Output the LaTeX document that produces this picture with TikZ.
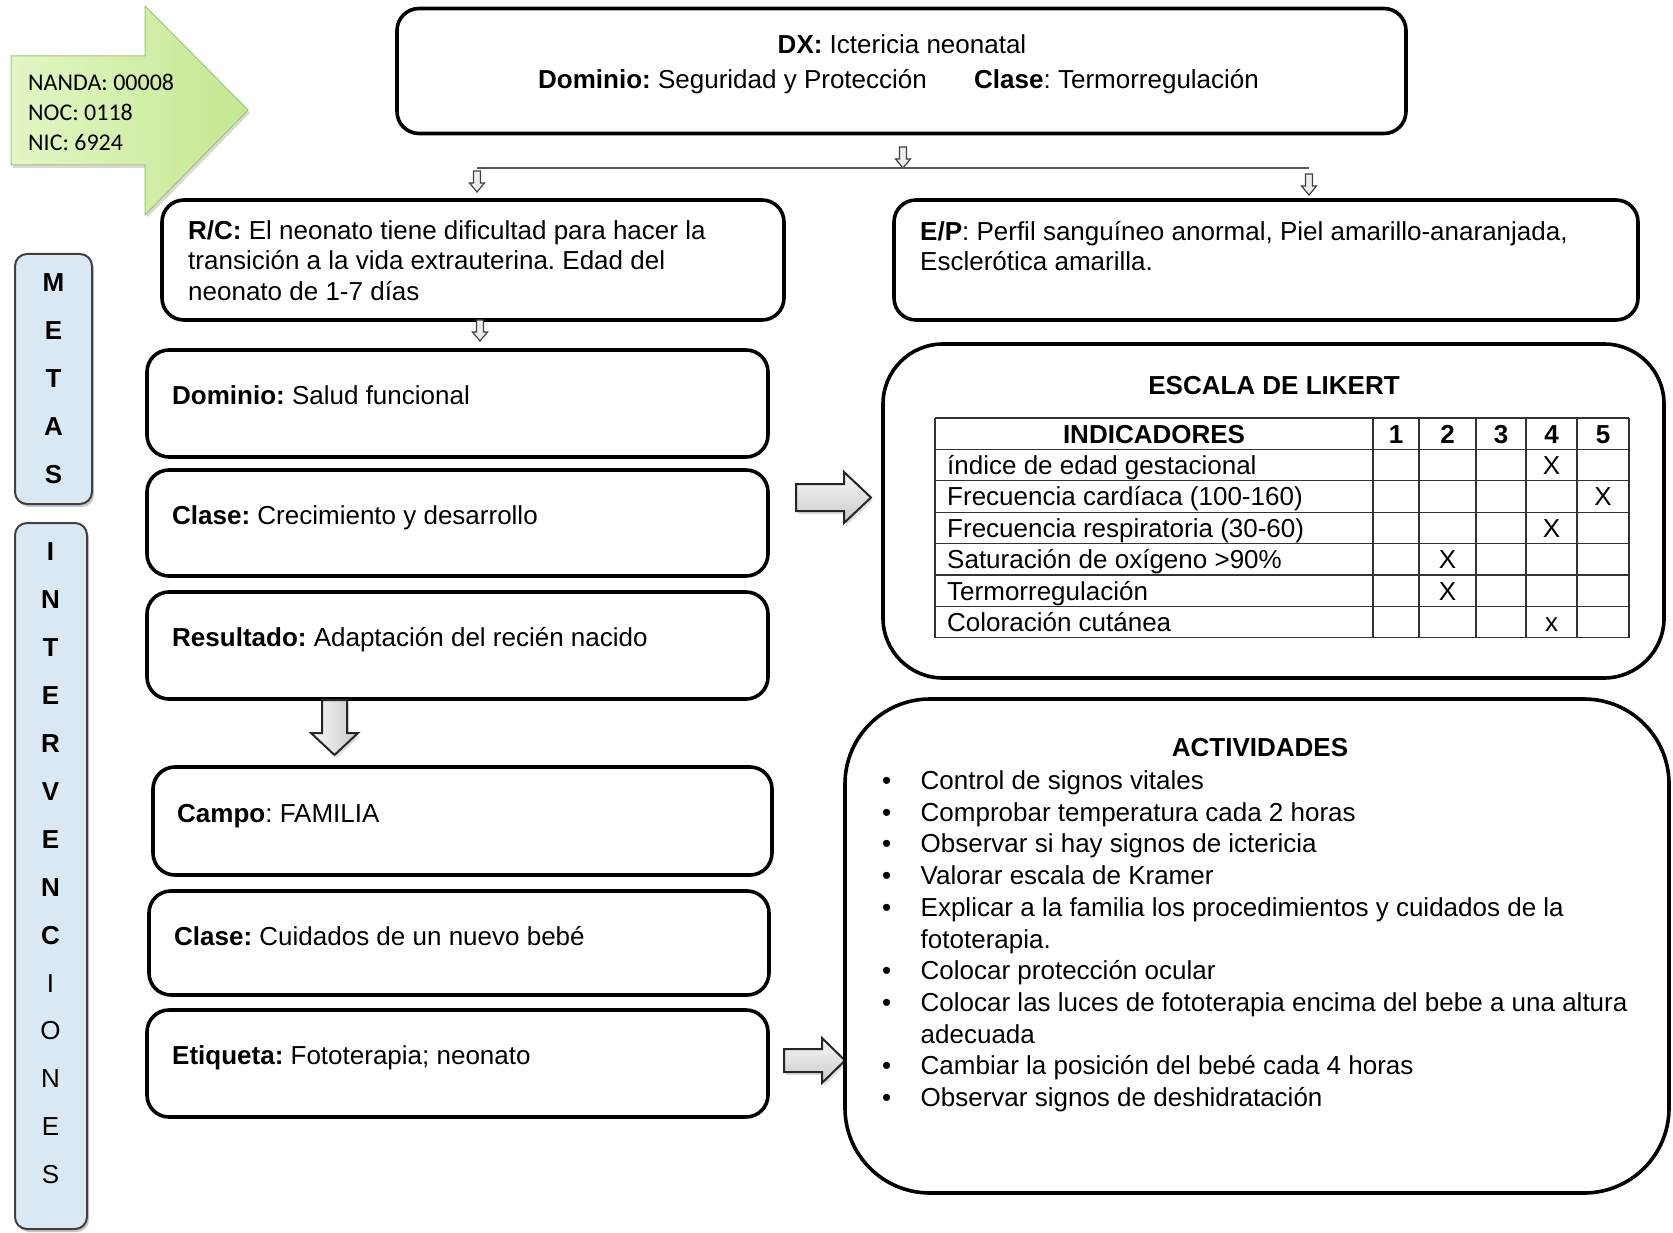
\documentclass[tikz,border=0pt]{standalone}
\usepackage{fontspec}
\setmainfont{Liberation Sans}
\newfontfamily\calib{Carlito}
\usetikzlibrary{shadows,calc}
\definecolor{greenL}{RGB}{226,246,196}
\definecolor{greenR}{RGB}{196,232,145}
\definecolor{greenB}{RGB}{160,200,115}
\definecolor{sideblue}{RGB}{218,232,243}
\frenchspacing
\begin{document}
\frenchspacing
\begin{tikzpicture}[x=1pt,y=-1pt,
  font=\fontsize{26}{30.5}\selectfont,
  box/.style={draw, line width=3.6pt, rounded corners=22pt, inner sep=0pt},
  txt/.style={inner sep=0pt, anchor=base west},
  ctxt/.style={inner sep=0pt, anchor=base},
  mtxt/.style={inner sep=0pt, anchor=north west, align=left},
  blockarr/.style={draw=black!85, line width=2pt, line join=miter, top color=gray!6, bottom color=gray!42,
     drop shadow={opacity=0.25, shadow xshift=2pt, shadow yshift=-3pt}},
  smallarr/.style={draw=black!75, fill=gray!15, line width=1.2pt, line join=miter},
  side/.style={draw=black!75, line width=2pt, fill=sideblue, rounded corners=12pt, inner sep=0pt,
     drop shadow={opacity=0.35, shadow xshift=2pt, shadow yshift=-3pt, fill=black!60}},
  sidel/.style={inner sep=0pt, font=\fontsize{26}{30}\selectfont\bfseries},
  sider/.style={inner sep=0pt, font=\fontsize{26}{30}\selectfont},
  tline/.style={line width=1.3pt, draw=black!80},
  sdown/.pic={\draw[smallarr] (-3.5,0) -- (3.5,0) -- (3.5,12) -- (7.5,12) -- (0,21) -- (-7.5,12) -- (-3.5,12) -- cycle;}
]
\useasboundingbox (0,0) rectangle (1673,1233);
\fill[white] (0,0) rectangle (1673,1233);

% green label arrow
\draw[draw=greenB, line width=1pt, left color=greenL, right color=greenR,
      drop shadow={opacity=0.3, shadow xshift=2pt, shadow yshift=-3pt}]
  (11,56) -- (145,56) -- (145,6) -- (248,110) -- (145,215) -- (145,165) -- (11,165) -- cycle;
\node[txt, font=\calib\fontsize{24}{30}\selectfont] (nanda) at (28,91) {NANDA: 00008};
\node[txt, font=\calib\fontsize{24}{30}\selectfont] (noc) at (28,121) {NOC: 0118};
\node[txt, font=\calib\fontsize{24}{30}\selectfont] (nic) at (28,151) {NIC: 6924};

% side boxes
\node[side, minimum width=77pt, minimum height=250pt] (metas) at (53.5,379) {};
\node[side, minimum width=72pt, minimum height=706pt] (interv) at (51,876) {};
\foreach \l [count=\i from 0] in {M,E,T,A,S}
  \node[sidel] (m\i) at (53.5,{283+47.9*\i}) {\l};
\foreach \l [count=\i from 0] in {I,N,T,E,R,V,E,N,C}
  \node[sidel] (ib\i) at (50.5,{552+47.9*\i}) {\l};
\foreach \l [count=\i from 9] in {I,O,N,E,S}
  \node[sider] (ir\i) at (50.5,{552+47.9*\i}) {\l};

% DX box
\node[box, minimum width=1009pt, minimum height=125pt] (dx) at (901.5,71) {};
\node[ctxt] (dxt) at (902,54) {\textbf{DX:} Ictericia neonatal};
\node[txt] (dxdom) at (538,89) {\textbf{Dominio:} Seguridad y Protección};
\node[txt] (dxcla) at (974,89) {\textbf{Clase}: Termorregulación};

% split connector
\pic at (903,147) {sdown};
\coordinate (hl) at (477,168);
\coordinate (hr) at (1309,168);
\draw[line width=2pt, draw=black!65] (hl) -- (hr);
\pic at (477,171) {sdown};
\pic at (1309,174) {sdown};

% R/C and E/P
\node[box, minimum width=622pt, minimum height=120pt] (rc) at (473,260) {};
\node[mtxt] (rct) at (188,220) {\textbf{R/C:} El neonato tiene dificultad para hacer la\\transición a la vida extrauterina. Edad del\\neonato de 1-7 días};
\node[box, minimum width=744pt, minimum height=120pt] (ep) at (1266,260) {};
\node[mtxt] (ept) at (920,221) {\textbf{E/P}: Perfil sanguíneo anormal, Piel amarillo-anaranjada,\\Esclerótica amarilla.};
\pic at (480,320) {sdown};

% left column boxes
\node[box, minimum width=621pt, minimum height=107pt] (dom) at (457.5,403.5) {};
\node[txt] (domt) at (172,404) {\textbf{Dominio:} Salud funcional};
\node[box, minimum width=621pt, minimum height=106pt] (cla) at (457.5,523) {};
\node[txt] (clat) at (172,524) {\textbf{Clase:} Crecimiento y desarrollo};
\node[box, minimum width=621pt, minimum height=107pt] (res) at (457.5,645.5) {};
\node[txt] (rest) at (172,646) {\textbf{Resultado:} Adaptación del recién nacido};

\draw[blockarr, left color=gray!6, right color=gray!42]
  (322,700) -- (347,700) -- (347,733) -- (358,733) -- (334.5,755) -- (311,733) -- (322,733) -- cycle;

\node[box, minimum width=619pt, minimum height=108pt] (campo) at (462.5,821) {};
\node[txt] (campot) at (177,822) {\textbf{Campo}: FAMILIA};
\node[box, minimum width=620pt, minimum height=104pt] (cla2) at (459,943) {};
\node[txt] (cla2t) at (174,945) {\textbf{Clase:} Cuidados de un nuevo bebé};
\node[box, minimum width=621pt, minimum height=107pt] (eti) at (457.5,1063.5) {};
\node[txt] (etit) at (172,1064) {\textbf{Etiqueta:} Fototerapia; neonato};

% block arrows to the right
\draw[blockarr] (796,484) -- (844,484) -- (844,472) -- (871,497.5) -- (844,523) -- (844,511) -- (796,511) -- cycle;
\draw[blockarr] (784,1049) -- (822,1049) -- (822,1038) -- (845,1060.5) -- (822,1083) -- (822,1072) -- (784,1072) -- cycle;

% Likert box
\node[box, rounded corners=60pt, minimum width=781pt, minimum height=334pt] (lik) at (1273.5,511) {};
\node[ctxt, font=\fontsize{26}{30}\selectfont\bfseries] (likt) at (1274,394) {ESCALA DE LIKERT};
\foreach \y in {418,449.4,480.8,512.2,543.6,575,606.4,637.8}
  \draw[tline] (935,\y) -- (1629,\y);
\foreach \x in {935,1373,1419,1476,1526,1577,1629}
  \draw[tline] (\x,418) -- (\x,637.8);
\node[ctxt, font=\fontsize{26}{30}\selectfont\bfseries] (hind) at (1154,443) {INDICADORES};
\foreach \n/\x in {1/1396,2/1447.5,3/1501,4/1551.5,5/1603}
  \node[ctxt, font=\fontsize{26}{30}\selectfont\bfseries] (h\n) at (\x,443) {\n};
\foreach \lab/\x/\m [count=\i] in {índice de edad gestacional/1551.5/X,
    Frecuencia cardíaca (100-160)/1603/X,
    Frecuencia respiratoria (30-60)/1551.5/X,
    Saturación de oxígeno >90\%/1447.5/X,
    Termorregulación/1447.5/X,
    Coloración cutánea/1551.5/x}
{
  \node[txt] (lab\i) at (947,{418+31.4*(\i+0.5)+9.3}) {\lab};
  \node[ctxt] (mk\i) at (\x,{418+31.4*(\i+0.5)+9.3}) {\m};
}

% Actividades box
\node[box, rounded corners=85pt, minimum width=824pt, minimum height=494pt] (act) at (1257,946) {};
\node[ctxt, font=\fontsize{26}{30}\selectfont\bfseries] (actt) at (1260,756) {ACTIVIDADES};
\node[mtxt, font=\fontsize{26}{31.7}\selectfont] (actl) at (882,770.5) {%
\makebox[38.5pt][l]{\textbullet}Control de signos vitales\\
\makebox[38.5pt][l]{\textbullet}Comprobar temperatura cada 2 horas\\
\makebox[38.5pt][l]{\textbullet}Observar si hay signos de ictericia\\
\makebox[38.5pt][l]{\textbullet}Valorar escala de Kramer\\
\makebox[38.5pt][l]{\textbullet}Explicar a la familia los procedimientos y cuidados de la\\
\hspace*{38.5pt}fototerapia.\\
\makebox[38.5pt][l]{\textbullet}Colocar protección ocular\\
\makebox[38.5pt][l]{\textbullet}Colocar las luces de fototerapia encima del bebe a una altura\\
\hspace*{38.5pt}adecuada\\
\makebox[38.5pt][l]{\textbullet}Cambiar la posición del bebé cada 4 horas\\
\makebox[38.5pt][l]{\textbullet}Observar signos de deshidratación};
\end{tikzpicture}
\end{document}
